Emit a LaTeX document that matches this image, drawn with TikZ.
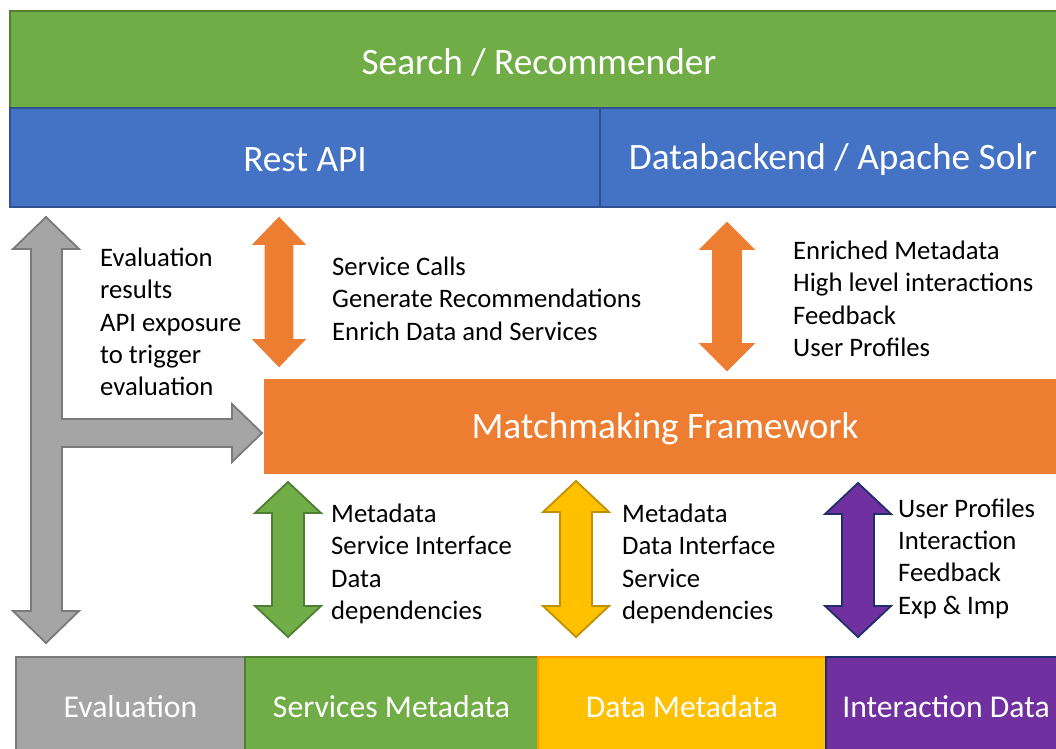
\documentclass[tikz,border=0pt]{standalone}
\usepackage{fontspec}
\setmainfont{Carlito}
\definecolor{cgreen}{HTML}{70AD47}
\definecolor{cgreenb}{HTML}{507E32}
\definecolor{cblue}{HTML}{4472C4}
\definecolor{cblueb}{HTML}{2F528F}
\definecolor{corange}{HTML}{ED7D31}
\definecolor{cgray}{HTML}{A5A5A5}
\definecolor{cgrayb}{HTML}{7A7A7A}
\definecolor{cyellow}{HTML}{FFC000}
\definecolor{cyellowb}{HTML}{BF9000}
\definecolor{cyellowbox}{HTML}{FF9900}
\definecolor{cpurple}{HTML}{7030A0}
\definecolor{cpurpleb}{HTML}{1F2F6B}
\newcommand\udarrow[9]{%
  \filldraw[fill=#1,draw=#2,line width=1.8pt,line join=miter]
    (#3,#4) -- (#3+#6,#4+#8) -- (#3+#7,#4+#8) -- (#3+#7,#5-#8) -- (#3+#6,#5-#8)
    -- (#3,#5) -- (#3-#6,#5-#8) -- (#3-#7,#5-#8) -- (#3-#7,#4+#8) -- (#3-#6,#4+#8) -- cycle;
  \coordinate (#9) at (#3,{(#4+#5)/2});}
\newcommand\dn[1]{\raisebox{-2.5pt}[\height][\depth]{#1}}
\begin{document}
\begin{tikzpicture}[x=1pt,y=-1pt,
  bar/.style={rectangle,line width=2.4pt,text=white,inner sep=0pt,
    font=\fontsize{37.3}{44}\selectfont},
  lowbox/.style={rectangle,line width=2.4pt,text=white,inner sep=0pt,
    font=\fontsize{31.7}{37}\selectfont,minimum height=100pt},
  lbl/.style={anchor=west,align=left,inner sep=0pt,text=black,
    font=\fontsize{26.7}{32.4}\selectfont}]
\useasboundingbox (0,0) rectangle (1056,748);
\clip (0,0) rectangle (1056,748);
\fill[white] (0,0) rectangle (1056,748);
% top bars
\node[bar,fill=cgreen,draw=cgreenb,minimum width=1058pt,minimum height=97pt]
  (search) at (539,59.5) {\dn{Search / Recommender}};
\node[bar,fill=cblue,draw=cblueb,minimum width=590pt,minimum height=99pt]
  (rest) at (305,157.5) {\dn{Rest API}};
\node[bar,fill=cblue,draw=cblueb,minimum width=466pt,minimum height=99pt]
  (solr) at (833,157.5) {\dn{Databackend / Apache Solr}};
% matchmaking
\node[bar,fill=corange,draw=corange,minimum width=800pt,minimum height=92pt]
  (mm) at (665,426.5) {\dn{Matchmaking Framework}};
% bottom boxes
\node[lowbox,fill=cgray,draw=cgrayb,minimum width=229pt] (eval) at (130.5,707) {Evaluation};
\node[lowbox,fill=cgreen,draw=cgreenb,minimum width=293pt] (smeta) at (391.5,707) {Services Metadata};
\node[lowbox,fill=cyellow,draw=cyellowbox,minimum width=288pt] (dmeta) at (682,707) {Data Metadata};
\node[lowbox,fill=cpurple,draw=cpurpleb,minimum width=240pt] (idata) at (946,707) {Interaction Data};
% gray T arrow
\filldraw[fill=cgray,draw=cgrayb,line width=1.8pt,line join=miter]
  (46,217) -- (79,249) -- (62,249) -- (62,419) -- (232,419) -- (232,404) -- (262,433)
  -- (232,462) -- (232,447) -- (62,447) -- (62,611) -- (79,611) -- (46,643)
  -- (13,611) -- (31,611) -- (31,249) -- (13,249) -- cycle;
\coordinate (grayarrow) at (46,430);
% double arrows
\udarrow{corange}{corange}{279}{218}{366}{25}{13.5}{26}{oa1}
\udarrow{corange}{corange}{727}{223}{370}{26}{14}{26}{oa2}
\udarrow{cgreen}{cgreenb}{288}{482}{637}{33}{16}{31}{ga}
\udarrow{cyellow}{cyellowb}{576}{481}{637}{33}{16}{31}{ya}
\udarrow{cpurple}{cpurpleb}{858}{483}{637}{33}{16}{31}{pa}
% labels
\node[lbl] (t1) at (100,322) {Evaluation\\results\\API exposure\\to trigger\\evaluation};
\node[lbl] (t2) at (332,298.5) {Service Calls\\Generate Recommendations\\Enrich Data and Services};
\node[lbl] (t3) at (793,299) {Enriched Metadata\\High level interactions\\Feedback\\User Profiles};
\node[lbl] (t4) at (331,564) {Metadata\\Service Interface\\Data\\dependencies};
\node[lbl] (t5) at (622,564) {Metadata\\Data Interface\\Service\\dependencies};
\node[lbl] (t6) at (898,558.5) {User Profiles\\Interaction\\Feedback\\Exp \& Imp};
\end{tikzpicture}
\end{document}
